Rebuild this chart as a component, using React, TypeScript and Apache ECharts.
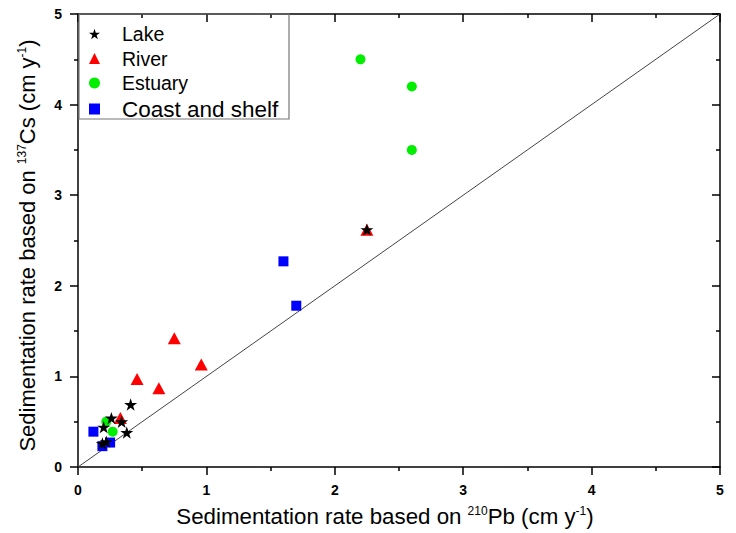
import React, { useEffect, useRef } from "react";
import * as echarts from "echarts";

// Sedimentation rates (cm/y): [210Pb-based, 137Cs-based]
const lakeData: number[][] = [
  [2.25, 2.62], [0.41, 0.69], [0.26, 0.54], [0.34, 0.5], [0.2, 0.44],
  [0.38, 0.38], [0.19, 0.26], [0.22, 0.28],
];
const riverData: number[][] = [
  [0.75, 1.42], [0.96, 1.13], [0.46, 0.97], [0.63, 0.87], [2.25, 2.62], [0.33, 0.54],
];
const estuaryData: number[][] = [
  [2.2, 4.5], [2.6, 4.2], [2.6, 3.5], [0.22, 0.5], [0.27, 0.39],
];
const coastData: number[][] = [
  [1.6, 2.27], [1.7, 1.78], [0.12, 0.39], [0.19, 0.23], [0.25, 0.27],
];
const oneToOne: number[][] = [[0, 0], [5, 5]];
const seriesNames = ["Lake", "River", "Estuary", "Coast and shelf"];

const STAR =
  "path://M50,0L61.2,34.5L97.6,34.5L68.2,55.9L79.4,90.5L50,69.1L20.6,90.5L31.8,55.9L2.4,34.5L38.8,34.5Z";

const FONT = "'Liberation Sans', Arial, sans-serif";

export default function App() {
  const ref = useRef<HTMLDivElement>(null);

  useEffect(() => {
    if (!ref.current) return;
    const chart = echarts.init(ref.current, undefined, { renderer: "svg" });

    const tickLine = { color: "#000", width: 1.5 };
    const makeAxis = (position: string, inside: boolean, labels: boolean) => ({
      type: "value",
      position,
      min: 0,
      max: 5,
      interval: 1,
      axisLine: { show: true, onZero: false, lineStyle: { color: "#000", width: 1.5 } },
      axisTick: { show: true, inside, length: 8, lineStyle: tickLine },
      minorTick: { show: true, splitNumber: 2, length: 4, lineStyle: tickLine },
      splitLine: { show: false },
      minorSplitLine: { show: false },
      axisLabel: labels
        ? { show: true, color: "#000", fontSize: 14, fontWeight: "bold", margin: 16, fontFamily: FONT }
        : { show: false },
    });

    const nameRich = (size: number) => ({
      a: { fontSize: size, fontFamily: FONT, color: "#000" },
      s: { fontSize: 12, fontFamily: FONT, color: "#000", verticalAlign: "top", padding: [0, 0, 10, 0] },
    });

    chart.setOption({
      animation: false,
      textStyle: { fontFamily: FONT },
      grid: { left: 78, right: 16, top: 14, bottom: 66, outerBoundsMode: "none" },
      legend: {
        orient: "vertical",
        left: 84,
        top: 19,
        itemWidth: 11,
        itemHeight: 11,
        itemGap: 4.5,
        textStyle: { color: "#000", fontFamily: FONT, fontSize: 19.5, padding: [0, 0, 0, 17] },
        data: [
          { name: "Lake" },
          { name: "River" },
          { name: "Estuary" },
          { name: "Coast and shelf", textStyle: { fontSize: 22.5 } },
        ],
      },
      graphic: [
        {
          type: "rect",
          shape: { x: 79, y: 14, width: 210, height: 105 },
          style: { fill: "none", stroke: "#777", lineWidth: 1.2 },
          z: 5,
        },
      ],
      xAxis: [
        {
          ...makeAxis("bottom", false, true),
          name: "{a|Sedimentation rate based on }{s|210}{a|Pb (cm y}{s|-1}{a|)}",
          nameLocation: "middle",
          nameGap: 38,
          nameTextStyle: { rich: nameRich(22.3), padding: [0, 28, 0, 0] },
        },
        makeAxis("top", true, false),
      ],
      yAxis: [
        {
          ...makeAxis("left", false, true),
          name: "{a|Sedimentation rate based on }{s|137}{a|Cs (cm y}{s|-1}{a|)}",
          nameLocation: "middle",
          nameGap: 40,
          nameTextStyle: { rich: nameRich(22), padding: [0, 10, 0, 0] },
        },
        makeAxis("right", true, false),
      ],
      series: [
        {
          name: "1:1",
          type: "line",
          data: oneToOne,
          symbol: "none",
          lineStyle: { color: "#444", width: 1 },
          z: 1,
        },
        {
          name: seriesNames[3],
          type: "scatter",
          data: coastData,
          symbol: "rect",
          symbolSize: 10,
          itemStyle: { color: "#0000ff", opacity: 1 },
          z: 2,
        },
        {
          name: seriesNames[1],
          type: "scatter",
          data: riverData,
          symbol: "triangle",
          symbolSize: [13, 12],
          itemStyle: { color: "#ff0000", opacity: 1 },
          z: 3,
        },
        {
          name: seriesNames[2],
          type: "scatter",
          data: estuaryData,
          symbol: "circle",
          symbolSize: 10,
          itemStyle: { color: "#00ee00", opacity: 1 },
          z: 4,
        },
        {
          name: seriesNames[0],
          type: "scatter",
          data: lakeData,
          symbol: STAR,
          symbolKeepAspect: true,
          symbolSize: 13,
          itemStyle: { color: "#000", opacity: 1 },
          z: 5,
        },
      ],
    });

    return () => chart.dispose();
  }, []);

  return (
    <div
      ref={ref}
      style={{ position: "absolute", left: 0, top: 0, width: 736, height: 533 }}
    />
  );
}
